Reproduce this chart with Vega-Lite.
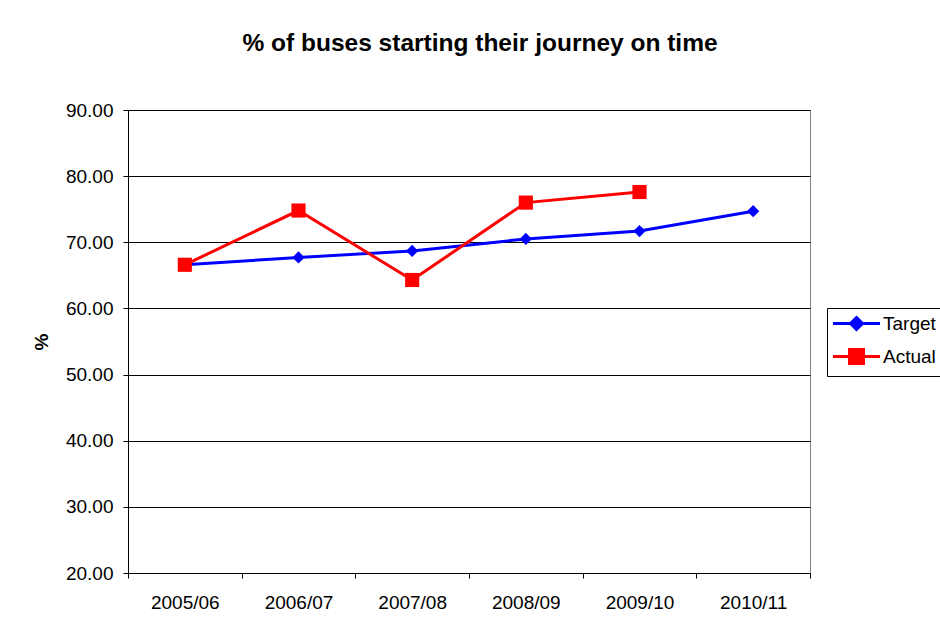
{
  "$schema": "https://vega.github.io/schema/vega-lite/v6.json",
  "width": 682,
  "height": 463,
  "autosize": "none",
  "padding": {"left": 128, "top": 110, "right": 130, "bottom": 57},
  "background": "white",
  "title": {
    "text": "% of buses starting their journey on time",
    "font": "Liberation Sans",
    "fontSize": 24.5,
    "fontWeight": "bold",
    "color": "#000000",
    "offset": 45,
    "dx": 11
  },
  "config": {
    "view": {"stroke": "#808080", "strokeWidth": 1},
    "axis": {
      "labelFont": "Liberation Sans",
      "labelFontSize": 19,
      "labelColor": "#000000",
      "titleFont": "Liberation Sans",
      "titleColor": "#000000",
      "domainColor": "#000000",
      "tickColor": "#000000",
      "tickSize": 5
    }
  },
  "data": {
    "values": [
      {"year": "2005/06", "series": "Target", "value": 66.6},
      {"year": "2006/07", "series": "Target", "value": 67.7},
      {"year": "2007/08", "series": "Target", "value": 68.7},
      {"year": "2008/09", "series": "Target", "value": 70.5},
      {"year": "2009/10", "series": "Target", "value": 71.7},
      {"year": "2010/11", "series": "Target", "value": 74.7},
      {"year": "2005/06", "series": "Actual", "value": 66.6},
      {"year": "2006/07", "series": "Actual", "value": 74.8},
      {"year": "2007/08", "series": "Actual", "value": 64.3},
      {"year": "2008/09", "series": "Actual", "value": 76.0},
      {"year": "2009/10", "series": "Actual", "value": 77.6}
    ]
  },
  "encoding": {
    "x": {
      "field": "year",
      "type": "ordinal",
      "scale": {"type": "band", "paddingInner": 0, "paddingOuter": 0},
      "axis": {
        "title": null,
        "labelAngle": 0,
        "tickBand": "extent",
        "labelPadding": 15,
        "grid": false
      }
    },
    "y": {
      "field": "value",
      "type": "quantitative",
      "scale": {"domain": [20, 90], "nice": false, "zero": false},
      "axis": {
        "title": "%",
        "titleFontSize": 19,
        "titleFontWeight": "bold",
        "titleAngle": -90,
        "titlePadding": 14,
        "values": [20, 30, 40, 50, 60, 70, 80, 90],
        "format": ".2f",
        "labelPadding": 10,
        "grid": true,
        "gridColor": "#000000",
        "gridWidth": 1
      }
    }
  },
  "layer": [
    {
      "mark": {"type": "line", "strokeWidth": 3},
      "encoding": {
        "color": {
          "field": "series",
          "type": "nominal",
          "scale": {"domain": ["Target", "Actual"], "range": ["#0000FF", "#FF0000"]},
          "legend": {
            "title": null,
            "orient": "none",
            "legendX": 699,
            "legendY": 198,
            "strokeColor": "#000000",
            "fillColor": "white",
            "padding": 6,
            "rowPadding": 7,
            "symbolType": "M-2.94,0H2.94",
            "symbolSize": 256,
            "symbolOffset": 14,
            "labelOffset": 17,
            "labelFont": "Liberation Sans",
            "labelFontSize": 19,
            "labelColor": "#000000",
            "symbolStrokeWidth": 3,
            "encode": {
              "symbols": {
                "update": {
                  "shape": {"signal": "datum.value == 'Target' ? 'M-2.94,0H2.94M0,-0.75L0.75,0L0,0.75L-0.75,0Z' : 'M-2.94,0H2.94M-0.875,-0.875H0.875V0.875H-0.875Z'"},
                  "fill": {"signal": "datum.value == 'Target' ? '#0000FF' : '#FF0000'"},
                  "stroke": {"signal": "datum.value == 'Target' ? '#0000FF' : '#FF0000'"},
                  "fillOpacity": {"value": 1},
                  "opacity": {"value": 1}
                }
              }
            }
          }
        }
      }
    },
    {
      "transform": [{"filter": "datum.series == 'Target'"}],
      "mark": {"type": "point", "shape": "diamond", "size": 150, "filled": true, "opacity": 1, "color": "#0000FF"}
    },
    {
      "transform": [{"filter": "datum.series == 'Actual'"}],
      "mark": {"type": "point", "shape": "square", "size": 200, "filled": true, "opacity": 1, "color": "#FF0000"}
    }
  ]
}
